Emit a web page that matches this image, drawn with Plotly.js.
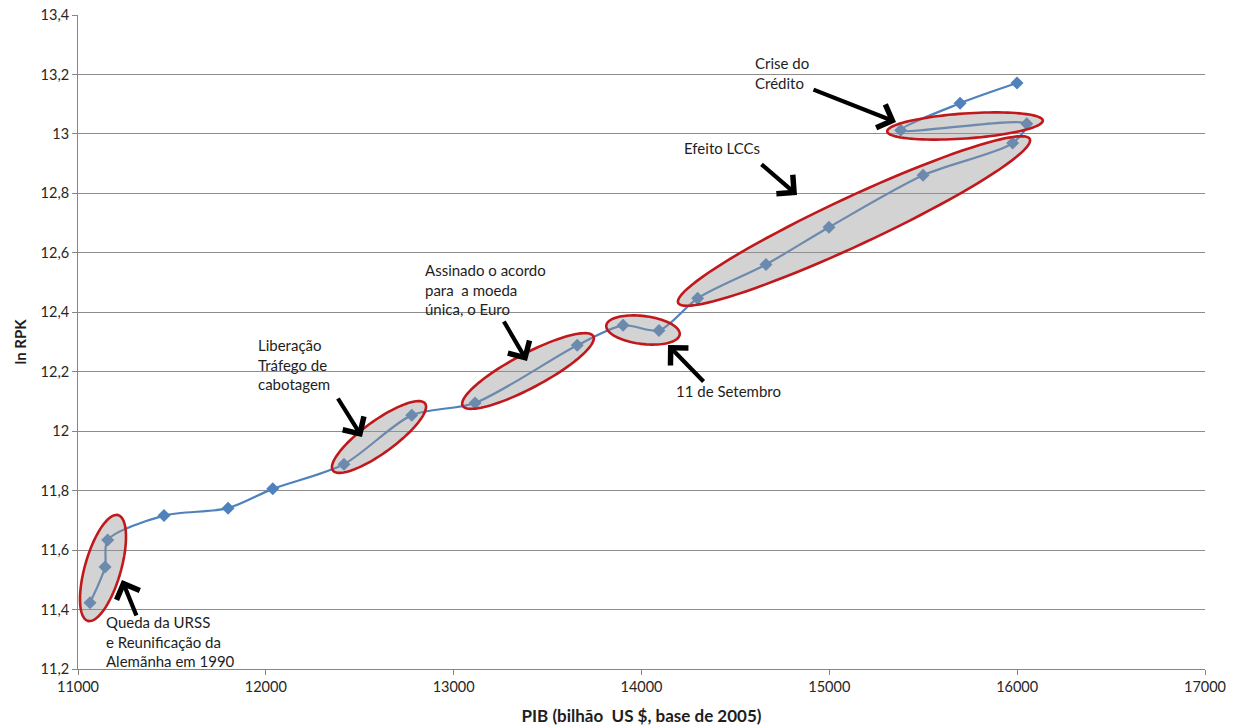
<!DOCTYPE html>
<html>
<head>
<meta charset="utf-8">
<script src="https://cdn.plot.ly/plotly-3.0.1.min.js"></script>
<style>
  html, body { margin: 0; padding: 0; background: #ffffff; }
  #chart { width: 1245px; height: 726px; }
</style>
</head>
<body>
<div id="chart"></div>
<script>
// PIB (bilhão US $, base de 2005) e ln RPK, ano a ano
const pib = [11064, 11144, 11158, 11458, 11799, 12037, 12416, 12777, 13114, 13658,
             13902, 14093, 14299, 14663, 14998, 15499, 15976, 16051, 15380, 15696, 15999];
const lnRpk = [11.423, 11.543, 11.634, 11.716, 11.741, 11.806, 11.889, 12.054, 12.095, 12.289,
               12.356, 12.339, 12.447, 12.561, 12.686, 12.861, 12.969, 13.034, 13.012, 13.103, 13.171];

const xTickVals = [11000, 12000, 13000, 14000, 15000, 16000, 17000];
const xTickText = ['11000', '12000', '13000', '14000', '15000', '16000', '17000'];
const yTickVals = [11.2, 11.4, 11.6, 11.8, 12, 12.2, 12.4, 12.6, 12.8, 13, 13.2, 13.4];
const yTickText = ['11,2', '11,4', '11,6', '11,8', '12', '12,2', '12,4', '12,6', '12,8', '13', '13,2', '13,4'];

// plot frame geometry (pixels) and axis ranges
const W = 1245, H = 726;
const M = { l: 78, r: 40, t: 15, b: 57 };
const xRange = [11000, 17000], yRange = [11.2, 13.4];
const pw = W - M.l - M.r, ph = H - M.t - M.b;
const toX = px => xRange[0] + (px - M.l) / pw * (xRange[1] - xRange[0]);
const toY = py => yRange[0] + (H - M.b - py) / ph * (yRange[1] - yRange[0]);

// tilted highlight ellipse, built in screen space and mapped back to data space
function ellipse(cx, cy, a, b, deg) {
  const t = deg * Math.PI / 180;
  const pts = [];
  for (let i = 0; i < 96; i++) {
    const u = i / 96 * 2 * Math.PI;
    const ex = a * Math.cos(u), ey = b * Math.sin(u);
    const px = cx + ex * Math.cos(t) + ey * Math.sin(t);
    const py = cy - ex * Math.sin(t) + ey * Math.cos(t);
    pts.push(toX(px).toFixed(3) + ',' + toY(py).toFixed(5));
  }
  return {
    type: 'path', xref: 'x', yref: 'y', layer: 'above',
    path: 'M' + pts.join('L') + 'Z',
    fillcolor: 'rgba(150,150,150,0.42)',
    line: { color: '#c0181b', width: 2.6 }
  };
}

const shapes = [
  ellipse(103, 568, 55, 18, 74),
  ellipse(379, 437, 57, 16, 36),
  ellipse(528, 371, 74, 17, 28),
  ellipse(643, 330, 37, 14, -7),
  ellipse(854, 221, 194, 24, 25),
  ellipse(965, 126, 78, 12.5, 4)
];

function arrow(tipX, tipY, tailX, tailY) {
  return {
    x: toX(tipX), y: toY(tipY), xref: 'x', yref: 'y',
    ax: tailX - tipX, ay: tailY - tipY,
    text: '', showarrow: true,
    arrowhead: 4, arrowsize: 1.15, arrowwidth: 4.2, arrowcolor: '#000000', standoff: 0
  };
}

function label(px, py, text) {
  return {
    x: toX(px), y: toY(py), xref: 'x', yref: 'y',
    xanchor: 'left', yanchor: 'top', align: 'left',
    text: text, showarrow: false,
    font: { family: 'Lato, "Open Sans", sans-serif', size: 15, color: '#1e1e1e' }
  };
}

const annotations = [
  arrow(122, 580, 137, 617),
  arrow(362, 437, 337, 397),
  arrow(527, 361, 503, 320),
  arrow(668, 345, 705, 383),
  arrow(797, 195, 760, 163),
  arrow(896, 122, 812, 89),
  label(104, 611, 'Queda da URSS<br>e Reunificação da<br>Alemãnha em 1990'),
  label(256, 334, 'Liberação<br>Tráfego de<br>cabotagem'),
  label(423, 259, 'Assinado o acordo<br>para  a moeda<br>única, o Euro'),
  label(674, 380, '11 de Setembro'),
  label(682, 137, 'Efeito LCCs'),
  label(753, 52, 'Crise do<br>Crédito')
];

const trace = {
  x: pib, y: lnRpk,
  type: 'scatter', mode: 'lines+markers',
  line: { color: '#4f81bd', width: 2.2, shape: 'spline', smoothing: 0.8 },
  marker: { symbol: 'diamond', size: 10, color: '#4f81bd' },
  hoverinfo: 'skip'
};

const tickFont = { family: 'Lato, "Open Sans", sans-serif', size: 14.5, color: '#262626' };

const layout = {
  width: W, height: H,
  margin: M,
  paper_bgcolor: '#ffffff', plot_bgcolor: '#ffffff',
  showlegend: false,
  xaxis: {
    range: xRange, tickmode: 'array', tickvals: xTickVals, ticktext: xTickText,
    showgrid: false, zeroline: false,
    showline: true, linecolor: '#868686', linewidth: 1,
    ticks: 'outside', ticklen: 5, tickcolor: '#868686',
    tickfont: tickFont,
    title: { text: '<b>PIB (bilhão  US $, base de 2005)</b>', standoff: 17,
             font: { family: 'Lato, "Open Sans", sans-serif', size: 17, color: '#1e1e1e' } }
  },
  yaxis: {
    range: yRange, tickmode: 'array', tickvals: yTickVals, ticktext: yTickText,
    showgrid: true, gridcolor: '#8c8c8c', gridwidth: 1, zeroline: false,
    showline: true, linecolor: '#868686', linewidth: 1,
    ticks: 'outside', ticklen: 5, tickcolor: '#868686',
    tickfont: tickFont,
    title: { text: '<b>ln RPK</b>', standoff: 10,
             font: { family: 'Lato, "Open Sans", sans-serif', size: 15, color: '#1e1e1e' } }
  },
  shapes: shapes,
  annotations: annotations
};

Plotly.newPlot('chart', [trace], layout, { staticPlot: true, displayModeBar: false });
</script>
</body>
</html>
